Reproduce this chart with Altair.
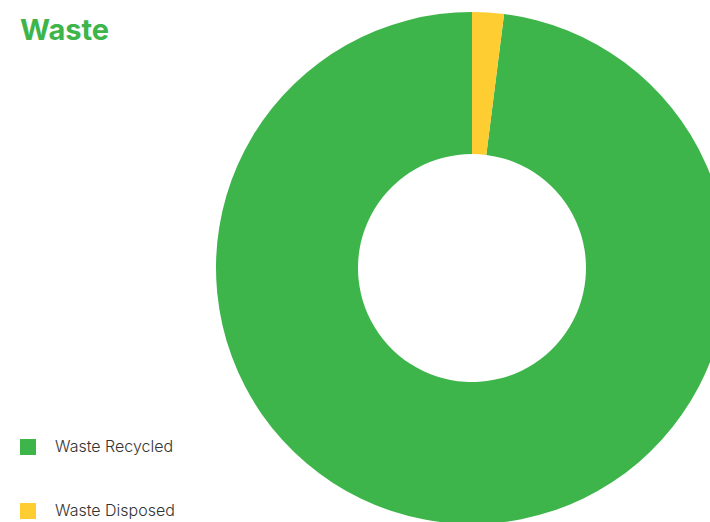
import altair as alt
import pandas as pd

categories = ["Waste Recycled", "Waste Disposed"]
values = [98, 2]
draw_order = [1, 0]
colors = ["#3DB54A", "#FDCD32"]

df = pd.DataFrame({"category": categories, "value": values, "order": draw_order})

chart = alt.Chart(df).mark_arc(innerRadius=114, outerRadius=256).encode(
    theta=alt.Theta("value:Q", stack=True),
    order=alt.Order("order:Q"),
    color=alt.Color(
        "category:N",
        scale=alt.Scale(domain=categories, range=colors),
        legend=alt.Legend(
            title=None, orient="none", legendX=20, legendY=439,
            symbolType="square", symbolSize=256, symbolStrokeWidth=0,
            symbolOpacity=1,
            labelFont="Inter", labelFontSize=16, labelColor="#333333",
            labelFontWeight=300,
            rowPadding=48, labelOffset=19, padding=0,
        ),
    ),
    x=alt.value(472),
    y=alt.value(268),
).properties(
    width=710,
    height=522,
    autosize="none",
    padding=0,
    title=alt.TitleParams(
        "Waste", anchor="start", dx=20, dy=69, offset=0, baseline="alphabetic",
        font="Inter", fontSize=29, fontWeight="bold", color="#3DB54A",
    ),
).configure_view(stroke=None)

chart.save("out.html", embed_options={"renderer": "svg", "actions": False})
